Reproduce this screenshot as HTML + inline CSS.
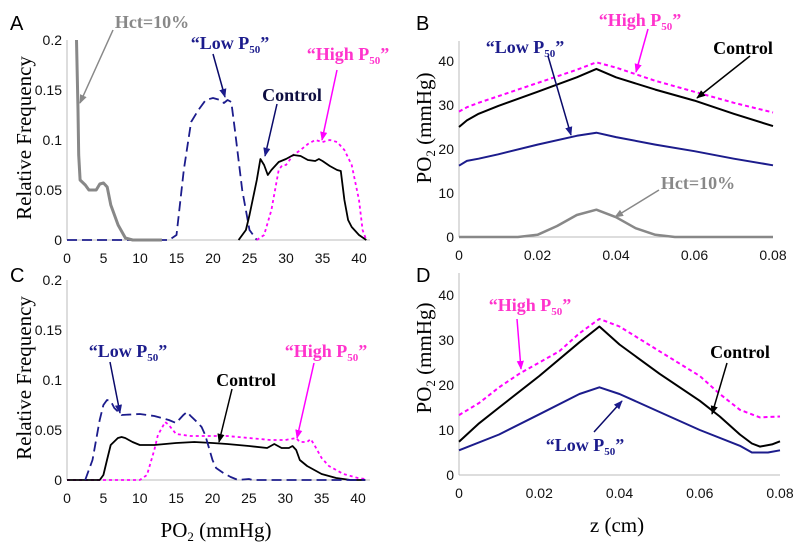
<!DOCTYPE html>
<html><head><meta charset="utf-8"><style>
html,body{margin:0;padding:0;background:#fff}
svg{display:block}
.tk{font-family:"Liberation Sans",sans-serif;font-size:14px;fill:#111}
.pl{font-family:"Liberation Sans",sans-serif;font-size:20px;fill:#000}
.at{font-family:"Liberation Serif",serif;font-size:21px;fill:#000}
.an{font-family:"Liberation Serif",serif;font-size:18px;font-weight:bold}
</style></head><body>
<svg id="fig" width="800" height="544" viewBox="0 0 800 544" xmlns="http://www.w3.org/2000/svg">
<defs>
<marker id="ahg" viewBox="0 0 10 10" refX="9" refY="5" markerWidth="6" markerHeight="6" orient="auto"><path d="M0,1 L10,5 L0,9 z" fill="#888"/></marker>
<marker id="ahn" viewBox="0 0 10 10" refX="9" refY="5" markerWidth="6" markerHeight="6" orient="auto"><path d="M0,1 L10,5 L0,9 z" fill="#1c1c8c"/></marker>
<marker id="ahm" viewBox="0 0 10 10" refX="9" refY="5" markerWidth="6" markerHeight="6" orient="auto"><path d="M0,1 L10,5 L0,9 z" fill="#ff00ff"/></marker>
<marker id="ahk" viewBox="0 0 10 10" refX="9" refY="5" markerWidth="6" markerHeight="6" orient="auto"><path d="M0,1 L10,5 L0,9 z" fill="#000"/></marker>
</defs>
<g id="plots"></g>
<text class="pl" x="10" y="30">A</text>
<text class="pl" x="416" y="30">B</text>
<text class="pl" x="10" y="282">C</text>
<text class="pl" x="416" y="282">D</text>
<text class="at" transform="translate(31,138) rotate(-90)" text-anchor="middle">Relative Frequency</text>
<text class="at" transform="translate(31,378) rotate(-90)" text-anchor="middle">Relative Frequency</text>
<text class="at" transform="translate(431,128) rotate(-90)" text-anchor="middle">PO<tspan font-size="13" dy="4">2</tspan><tspan dy="-4"> (mmHg)</tspan></text>
<text class="at" transform="translate(431,358) rotate(-90)" text-anchor="middle">PO<tspan font-size="13" dy="4">2</tspan><tspan dy="-4"> (mmHg)</tspan></text>
<text class="at" x="216" y="537" text-anchor="middle">PO<tspan font-size="13" dy="4">2</tspan><tspan dy="-4"> (mmHg)</tspan></text>
<text class="at" x="617" y="532" text-anchor="middle">z (cm)</text>
<g><text class="an" x="152" y="28" text-anchor="middle" fill="#888">Hct=10%</text><line x1="113" y1="30" x2="80" y2="103" stroke="#888" stroke-width="1.5" marker-end="url(#ahg)"/></g>
<g><text class="an" x="230" y="49" text-anchor="middle" fill="#1c1c8c">“Low P<tspan font-size="11" dy="4">50</tspan><tspan dy="-4">”</tspan></text><line x1="213" y1="54" x2="225" y2="97" stroke="#0a0a6a" stroke-width="1.5" marker-end="url(#ahn)"/></g>
<g><text class="an" x="348" y="60" text-anchor="middle" fill="#ff33cc">“High P<tspan font-size="11" dy="4">50</tspan><tspan dy="-4">”</tspan></text><line x1="337" y1="70" x2="322" y2="140" stroke="#ff00ff" stroke-width="1.5" marker-end="url(#ahm)"/></g>
<g><text class="an" x="292" y="101" text-anchor="middle" fill="#0d0d40">Control</text><line x1="277" y1="104" x2="265" y2="156" stroke="#0a0a6a" stroke-width="1.5" marker-end="url(#ahn)"/></g>
<g><text class="an" x="640" y="26" text-anchor="middle" fill="#ff33cc">“High P<tspan font-size="11" dy="4">50</tspan><tspan dy="-4">”</tspan></text><line x1="648" y1="29" x2="636" y2="72" stroke="#ff00ff" stroke-width="1.5" marker-end="url(#ahm)"/></g>
<g><text class="an" x="525" y="53" text-anchor="middle" fill="#1c1c8c">“Low P<tspan font-size="11" dy="4">50</tspan><tspan dy="-4">”</tspan></text><line x1="548" y1="56" x2="571" y2="135" stroke="#0a0a6a" stroke-width="1.5" marker-end="url(#ahn)"/></g>
<g><text class="an" x="743" y="54" text-anchor="middle" fill="#000">Control</text><line x1="750" y1="56" x2="697" y2="98" stroke="#000" stroke-width="1.5" marker-end="url(#ahk)"/></g>
<g><text class="an" x="698" y="189" text-anchor="middle" fill="#888">Hct=10%</text><line x1="659" y1="190" x2="615" y2="217" stroke="#888" stroke-width="1.5" marker-end="url(#ahg)"/></g>
<g><text class="an" x="128" y="357" text-anchor="middle" fill="#1c1c8c">“Low P<tspan font-size="11" dy="4">50</tspan><tspan dy="-4">”</tspan></text><line x1="110" y1="362" x2="120" y2="413" stroke="#0a0a6a" stroke-width="1.5" marker-end="url(#ahn)"/></g>
<g><text class="an" x="326" y="357" text-anchor="middle" fill="#ff33cc">“High P<tspan font-size="11" dy="4">50</tspan><tspan dy="-4">”</tspan></text><line x1="314" y1="363" x2="297" y2="438" stroke="#ff00ff" stroke-width="1.5" marker-end="url(#ahm)"/></g>
<g><text class="an" x="246" y="386" text-anchor="middle" fill="#000">Control</text><line x1="232" y1="389" x2="219" y2="442" stroke="#000" stroke-width="1.5" marker-end="url(#ahk)"/></g>
<g><text class="an" x="530" y="311" text-anchor="middle" fill="#ff33cc">“High P<tspan font-size="11" dy="4">50</tspan><tspan dy="-4">”</tspan></text><line x1="517" y1="319" x2="521" y2="369" stroke="#ff00ff" stroke-width="1.5" marker-end="url(#ahm)"/></g>
<g><text class="an" x="740" y="358" text-anchor="middle" fill="#000">Control</text><line x1="727" y1="363" x2="712" y2="414" stroke="#000" stroke-width="1.5" marker-end="url(#ahk)"/></g>
<g><text class="an" x="585" y="451" text-anchor="middle" fill="#1c1c8c">“Low P<tspan font-size="11" dy="4">50</tspan><tspan dy="-4">”</tspan></text><line x1="594" y1="432" x2="622" y2="401" stroke="#0a0a6a" stroke-width="1.5" marker-end="url(#ahn)"/></g>
</svg>
<script>
const aHctX=[1.3,1.5,1.6,1.8,2.5,3,4,4.5,5,5.5,6,7,8,9,13];
const aHctY=[0.2,0.13,0.085,0.06,0.055,0.05,0.05,0.056,0.057,0.053,0.035,0.015,0.002,0,0];
const aLowX=[0,14,15,16,17,18,19,20,21,21.5,22,22.5,23,24,25,26];
const aLowY=[0,0,0.005,0.07,0.118,0.13,0.14,0.142,0.14,0.137,0.14,0.138,0.11,0.05,0.01,0];
const aCtlX=[23.5,24.5,25,26,26.5,27,27.5,28,29,30,31,32,33,34,34.5,35,36,37,37.5,38,38.5,39,40,41];
const aCtlY=[0,0.01,0.025,0.06,0.081,0.075,0.065,0.07,0.078,0.081,0.085,0.084,0.08,0.079,0.081,0.079,0.074,0.07,0.069,0.04,0.02,0.013,0.005,0];
const aHighX=[26,27,28,29,29.5,30,31,32,33,34,35,36,37,38,39,40,40.5,41];
const aHighY=[0,0.005,0.03,0.07,0.075,0.075,0.085,0.09,0.096,0.1,0.098,0.1,0.098,0.09,0.075,0.04,0.01,0];
const cLowX=[2.5,3.5,4.5,5,5.5,6,6.5,7.5,10,12,14,15,16,16.5,17,18,18.5,19,20,20.5,21.5,22.5,23.5,25,25.5,41];
const cLowY=[0,0.02,0.06,0.075,0.08,0.079,0.072,0.065,0.066,0.064,0.06,0.057,0.065,0.068,0.064,0.057,0.053,0.045,0.02,0.012,0.007,0.003,0,0.001,0,0];
const cCtlX=[0,4.5,5,5.5,6,7,7.5,8,9,10,12,15,17.5,20,22,25,27.5,28.5,29.5,30.5,31,31.5,32,33,35,37,39,41];
const cCtlY=[0,0,0.005,0.02,0.035,0.042,0.043,0.042,0.038,0.035,0.035,0.037,0.038,0.037,0.036,0.034,0.032,0.036,0.032,0.032,0.034,0.03,0.02,0.014,0.006,0.002,0,0];
const cHighX=[0,10,11,12,12.5,13.5,14,15,17,20,22,25,28,30,31.5,32,33,33.5,34,35,36,38,40,41];
const cHighY=[0,0,0.005,0.03,0.045,0.058,0.055,0.046,0.044,0.044,0.044,0.042,0.04,0.04,0.042,0.038,0.038,0.041,0.035,0.022,0.014,0.006,0.002,0.001];
const bZ=[0,0.002,0.005,0.01,0.02,0.03,0.035,0.04,0.05,0.06,0.07,0.08];
const bHigh=[28.5,29.5,30.5,32,35,38,39.7,38.5,35.5,33,30.5,28.3];
const bCtl=[25,26.5,28,29.8,33,36.3,38.2,36.3,33.5,31,28,25.2];
const bLow=[16.2,17.3,17.8,18.8,21,23,23.7,22.7,21,19.5,17.8,16.3];
const bHctZ=[0,0.015,0.02,0.025,0.03,0.035,0.04,0.045,0.05,0.055,0.08];
const bHct=[0,0,0.5,2.5,5,6.2,4.5,2,0.5,0,0];
const dHighZ=[0,0.005,0.01,0.015,0.02,0.025,0.03,0.035,0.04,0.05,0.06,0.065,0.07,0.075,0.08];
const dHigh=[13.3,16,19.5,22.5,25,27.5,31.5,34.7,33,27.5,22,18,14.5,12.8,13];
const dCtlZ=[0,0.005,0.01,0.02,0.03,0.035,0.04,0.05,0.06,0.065,0.07,0.073,0.075,0.078,0.08];
const dCtl=[7.4,11.5,15,22,29.5,33,29,22.5,16.5,13,9,7,6.3,6.8,7.5];
const dLowZ=[0,0.01,0.02,0.03,0.035,0.04,0.05,0.06,0.07,0.073,0.077,0.08];
const dLow=[5.5,9,13.5,18,19.5,18,14,10,6.5,5,5,5.5];
const freqTicks=[0,0.05,0.1,0.15,0.2];
const freqTickLabels=["0","0.05","0.1","0.15","0.2"];
const po2Ticks=[0,5,10,15,20,25,30,35,40];
const zTicks=[0,0.02,0.04,0.06,0.08];
const zTickLabels=["0","0.02","0.04","0.06","0.08"];
const pTicks=[0,10,20,30,40];

const NS="http://www.w3.org/2000/svg";
const root=document.getElementById('plots');
function el(t,a,p){const e=document.createElementNS(NS,t);for(const k in a)e.setAttribute(k,a[k]);(p||root).appendChild(e);return e;}
function panel(name,x0,x1,xmin,xmax,y0,y1,ymin,ymax,xAxisEnd,yAxisTop,xt,xtl,yt,ytl){
  const g=el('g',{});
  
  
  const sx=v=>x0+(v-xmin)/(xmax-xmin)*(x1-x0);
  const sy=v=>y0-(v-ymin)/(ymax-ymin)*(y0-y1);
  const ya=el('line',{x1:x0,y1:y0,x2:x0,y2:yAxisTop,stroke:'#bbb','stroke-width':1},g);
  
  
  const xa=el('line',{x1:x0,y1:y0,x2:xAxisEnd,y2:y0,stroke:'#bbb','stroke-width':1},g);
  
  
  xt.forEach((v,i)=>{
    const t=el('text',{class:'tk',x:sx(v),y:y0+23,'text-anchor':'middle'},g);
    t.textContent=xtl[i];
    
    
  });
  yt.forEach((v,i)=>{
    const t=el('text',{class:'tk',x:x0-5,y:sy(v)+5,'text-anchor':'end'},g);
    t.textContent=ytl[i];
    
    
  });
  return {g,sx,sy};
}
function series(p,name,xs,ys,color,width,dash){
  const d=xs.map((v,i)=>(i?'L':'M')+p.sx(v).toFixed(1)+','+p.sy(ys[i]).toFixed(1)).join(' ');
  const a={d:d,fill:'none',stroke:color,'stroke-width':width,'stroke-linejoin':'round'};
  if(dash)a['stroke-dasharray']=dash;
  const e=el('path',a,p.g);
  
  
}
const NAVY='#1c1c8c',MAG='#ff00ff',GRAY='#888';
const po2L=po2Ticks.map(String), pL=pTicks.map(String);
const A=panel('panel-a-chart',67,359,0,40,240,40,0,0.2,370,40,po2Ticks,po2L,freqTicks,freqTickLabels);
series(A,'line-a-low-p50',aLowX,aLowY,NAVY,1.8,'10,5');
series(A,'line-a-high-p50',aHighX,aHighY,MAG,1.8,'3,3');
series(A,'line-a-control',aCtlX,aCtlY,'#000',1.8);
series(A,'line-a-hct10',aHctX,aHctY,GRAY,3);
const C=panel('panel-c-chart',67,358,0,40,480,280,0,0.2,370,280,po2Ticks,po2L,freqTicks,freqTickLabels);
series(C,'line-c-high-p50',cHighX,cHighY,MAG,1.8,'3,3');
series(C,'line-c-control',cCtlX,cCtlY,'#000',1.8);
series(C,'line-c-low-p50',cLowX,cLowY,NAVY,1.8,'10,5');
const B=panel('panel-b-chart',459,773,0,0.08,237,61,0,40,773,41,zTicks,zTickLabels,pTicks,pL);
series(B,'line-b-hct10',bHctZ,bHct,GRAY,2.5);
series(B,'line-b-low-p50',bZ,bLow,NAVY,2);
series(B,'line-b-control',bZ,bCtl,'#000',2);
series(B,'line-b-high-p50',bZ,bHigh,MAG,2,'4,3');
const D=panel('panel-d-chart',459,780,0,0.08,475,295,0,40,780,273,zTicks,zTickLabels,pTicks,pL);
series(D,'line-d-low-p50',dLowZ,dLow,NAVY,2);
series(D,'line-d-control',dCtlZ,dCtl,'#000',2);
series(D,'line-d-high-p50',dHighZ,dHigh,MAG,2,'4,3');
</script>
</body></html>
